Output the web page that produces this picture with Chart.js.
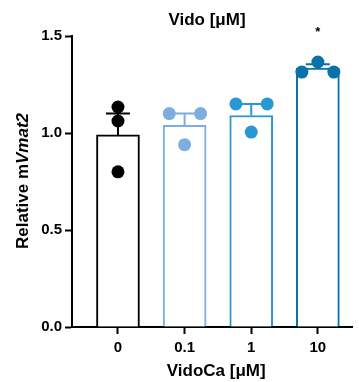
<!DOCTYPE html>
<html>
<head>
<meta charset="utf-8">
<script src="https://cdn.jsdelivr.net/npm/chart.js@4"></script>
<style>
  html, body { margin: 0; padding: 0; background: #fff; }
  #wrap { width: 359px; height: 382px; position: relative; }
</style>
</head>
<body>
<div id="wrap"><canvas id="chart"></canvas></div>
<script>
// data
const categories = ["0", "0.1", "1", "10"];
const means = [0.99, 1.04, 1.09, 1.335];
const sems = [0.11, 0.06, 0.06, 0.02];
const pointsG0 = [1.134, 1.062, 0.80];
const pointsG1 = [1.10, 0.94, 1.10];
const pointsG2 = [1.15, 1.005, 1.15];
const pointsG3 = [1.314, 1.366, 1.314];
const yTicks = [0, 0.5, 1.0, 1.5];

const groupPoints = [pointsG0, pointsG1, pointsG2, pointsG3];
const colors = ["#000000", "#7DAEDF", "#2A97D5", "#0A72A8"];
// horizontal spread of the dots within each bar (in category units)
const spread = [[0, 0, 0], [-0.23, 0, 0.24], [-0.23, 0, 0.24], [-0.24, 0, 0.24]];

const FONT = "'Liberation Sans', Arial, sans-serif";

const dotData = [];
const dotColors = [];
groupPoints.forEach((pts, i) => {
    pts.forEach((v, j) => {
        dotData.push({ x: i + spread[i][j], y: v });
        dotColors.push(colors[i]);
    });
});

const errorBars = {
    id: "errorBars",
    afterDatasetDraw(chart, args) {
        if (args.index !== 0) return;
        const { ctx, scales: { x, y } } = chart;
        ctx.save();
        ctx.lineWidth = 2;
        means.forEach((m, i) => {
            const cx = x.getPixelForValue(i);
            const top = y.getPixelForValue(m + sems[i]);
            const base = y.getPixelForValue(m);
            ctx.strokeStyle = colors[i];
            ctx.beginPath();
            ctx.moveTo(cx, base);
            ctx.lineTo(cx, top);
            ctx.moveTo(cx - 12, top);
            ctx.lineTo(cx + 12, top);
            ctx.stroke();
        });
        ctx.restore();
    }
};

const labels = {
    id: "labels",
    afterDraw(chart) {
        const { ctx, chartArea, scales: { x } } = chart;
        ctx.save();
        ctx.fillStyle = "#000";
        ctx.textAlign = "center";
        ctx.textBaseline = "middle";
        ctx.font = "bold 17px " + FONT;
        ctx.fillText("Vido [\u03bcM]", 207, 20);
        ctx.fillText("VidoCa [\u03bcM]", (chartArea.left + chartArea.right) / 2 + 4, 371);
        ctx.font = "bold 13px " + FONT;
        ctx.fillText("*", x.getPixelForValue(3), 32);

        // rotated y title with italic gene name
        const a = "Relative m", b = "Vmat2";
        ctx.font = "bold 17px " + FONT;
        const wa = ctx.measureText(a).width;
        ctx.font = "italic bold 17px " + FONT;
        const wb = ctx.measureText(b).width;
        ctx.translate(23, 181);
        ctx.rotate(-Math.PI / 2);
        ctx.textAlign = "left";
        const start = -(wa + wb) / 2;
        ctx.font = "bold 17px " + FONT;
        ctx.fillText(a, start, 0);
        ctx.font = "italic bold 17px " + FONT;
        ctx.fillText(b, start + wa, 0);
        ctx.restore();
    }
};

new Chart(document.getElementById("chart"), {
    type: "bar",
    data: {
        datasets: [
            {
                type: "bar",
                data: means.map((v, i) => ({ x: i, y: v })),
                backgroundColor: "#ffffff",
                borderColor: colors,
                borderWidth: 2,
                barThickness: 43,
                order: 2
            },
            {
                type: "scatter",
                data: dotData,
                backgroundColor: dotColors,
                borderColor: dotColors,
                pointRadius: 6.5,
                pointHoverRadius: 6.5,
                borderWidth: 0,
                order: 1
            }
        ]
    },
    options: {
        responsive: true,
        maintainAspectRatio: false,
        animation: false,
        events: [],
        layout: { padding: { top: 36, right: 5, left: 0, bottom: 0 } },
        plugins: { legend: { display: false }, tooltip: { enabled: false }, title: { display: false } },
        scales: {
            x: {
                type: "linear",
                offset: false,
                min: -0.69,
                max: 3.52,
                afterBuildTicks: s => { s.ticks = categories.map((c, i) => ({ value: i })); },
                afterFit: s => { s.height = 55; },
                ticks: {
                    callback: v => categories[v],
                    color: "#000",
                    font: { family: FONT, size: 15, weight: "bold" },
                    padding: 5,
                    maxRotation: 0
                },
                grid: { offset: false, drawOnChartArea: false, drawTicks: true, tickLength: 7, tickWidth: 2, tickColor: "#000" },
                border: { color: "#000", width: 2 }
            },
            y: {
                min: 0,
                max: 1.5,
                afterBuildTicks: s => { s.ticks = yTicks.map(v => ({ value: v })); },
                afterFit: s => { s.width = 72; },
                ticks: {
                    callback: v => v.toFixed(1),
                    color: "#000",
                    font: { family: FONT, size: 15, weight: "bold" },
                    padding: 3
                },
                grid: { drawOnChartArea: false, drawTicks: true, tickLength: 7, tickWidth: 2, tickColor: "#000" },
                border: { color: "#000", width: 2 }
            }
        }
    },
    plugins: [errorBars, labels]
});
</script>
</body>
</html>
